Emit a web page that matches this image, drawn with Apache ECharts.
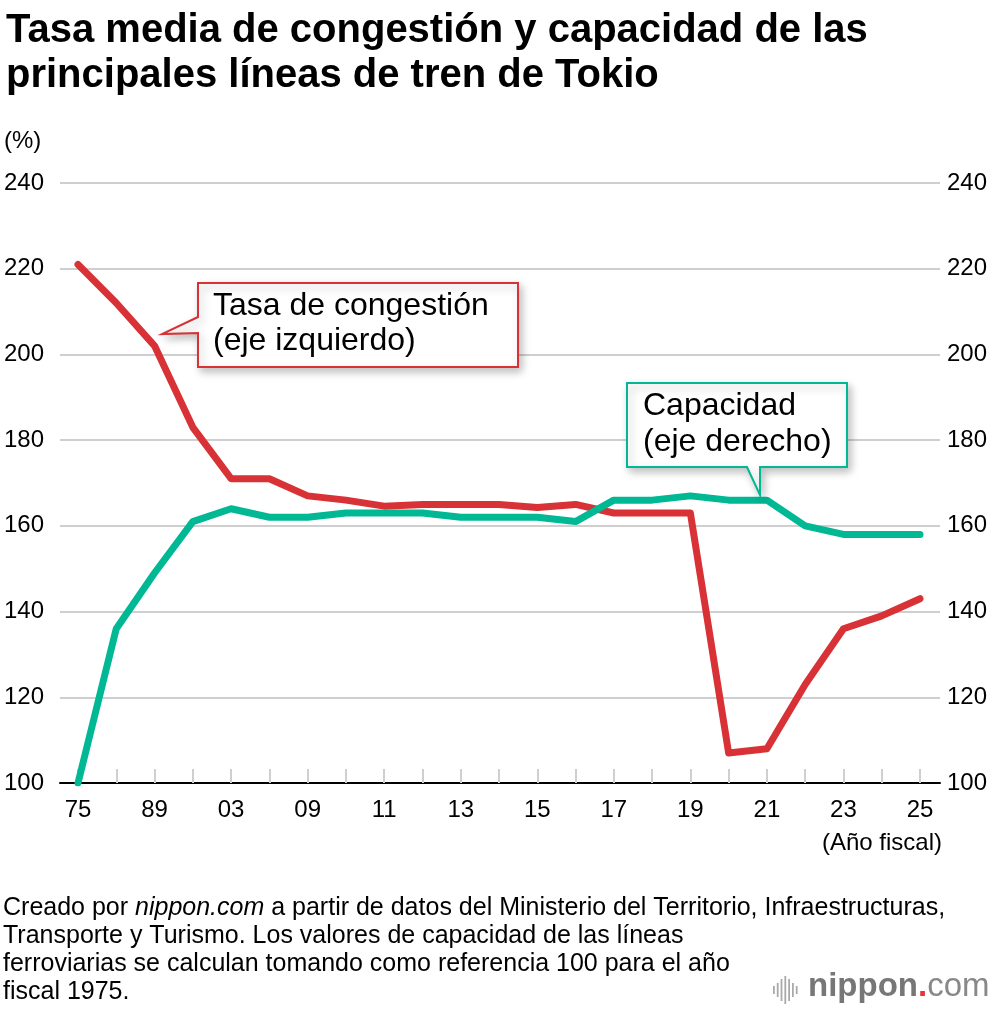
<!DOCTYPE html>
<html>
<head>
<meta charset="utf-8">
<script src="https://cdn.jsdelivr.net/npm/echarts@6/dist/echarts.min.js"></script>
<style>
  html, body { margin: 0; padding: 0; background: #fff; }
  #main { width: 1000px; height: 1012px; }
</style>
</head>
<body>
<div id="main"></div>
<script>
// años fiscales (solo se ven uno de cada dos)
var years = ['75', '85', '89', '95', '03', '06', '09', '10', '11', '12', '13', '14',
             '15', '16', '17', '18', '19', '20', '21', '22', '23', '24', '25'];
// tasa de congestión (%), eje izquierdo
var congestion = [221, 212, 202, 183, 171, 171, 167, 166, 164.6, 165, 165, 165,
                  164.3, 165, 163, 163, 163, 107, 108, 123, 136, 139, 143];
// capacidad (1975 = 100), eje derecho
var capacity = [100, 136, 149, 161, 164, 162, 162, 163, 163, 163, 162, 162,
                162, 161, 166, 166, 167, 166, 166, 160, 158, 158, 158];
var yTicks = [100, 120, 140, 160, 180, 200, 220, 240];

var FONT = '"Liberation Sans", Arial, Helvetica, sans-serif';
var RED = '#d83236';
var GREEN = '#00b894';

var myChart = echarts.init(document.getElementById('main'), null, { renderer: 'canvas' });

var shadow = {
    shadowBlur: 8,
    shadowOffsetX: 3,
    shadowOffsetY: 4,
    shadowColor: 'rgba(0,0,0,0.25)'
};

// barras del logo
var bars = [8, 14, 22, 28, 22, 14, 8];
var logoBars = bars.map(function (h, i) {
    return {
        type: 'rect',
        shape: { x: 773 + i * 3.8, y: 990 - h / 2, width: 1.8, height: h },
        style: { fill: '#aaa' }
    };
});

var yRange = { min: 100, max: 240, interval: 20 };

var option = {
    animation: false,
    title: {
        text: 'Tasa media de congestión y capacidad de las\nprincipales líneas de tren de Tokio',
        left: 1,
        top: 3,
        textStyle: {
            fontFamily: FONT,
            fontSize: 40,
            fontWeight: 'bold',
            color: '#000',
            lineHeight: 45
        }
    },
    // grid 0: lineas de fondo y etiquetas del eje y; grid 1: las series
    grid: [
        { left: 60, right: 60, top: 183, bottom: 229 },
        { left: 78, right: 80, top: 183, bottom: 229 }
    ],
    xAxis: [
        {
            gridIndex: 0,
            type: 'value',
            min: 0,
            max: 1,
            axisLine: { onZero: false, lineStyle: { color: '#000', width: 2 } },
            axisTick: { show: false },
            axisLabel: { show: false },
            splitLine: { show: false }
        },
        {
            gridIndex: 1,
            type: 'category',
            data: years,
            boundaryGap: false,
            axisLine: { show: false },
            axisTick: {
                show: true,
                inside: true,
                length: 14,
                interval: 0,
                lineStyle: { color: '#cfcfcf', width: 2 }
            },
            axisLabel: {
                interval: 1,
                margin: 15,
                color: '#000',
                fontFamily: FONT,
                fontSize: 24
            },
            splitLine: { show: false }
        }
    ],
    yAxis: [
        {
            gridIndex: 0,
            type: 'value',
            min: yRange.min,
            max: yRange.max,
            interval: yRange.interval,
            axisLine: { show: false },
            axisTick: { show: false },
            axisLabel: {
                align: 'left',
                margin: 56,
                color: '#000',
                fontFamily: FONT,
                fontSize: 24,
                formatter: function (v) { return yTicks.indexOf(v) >= 0 ? v : ''; }
            },
            splitLine: { lineStyle: { color: '#cfcfcf', width: 2 } }
        },
        {
            gridIndex: 0,
            type: 'value',
            min: yRange.min,
            max: yRange.max,
            interval: yRange.interval,
            position: 'right',
            axisLine: { show: false },
            axisTick: { show: false },
            axisLabel: {
                align: 'left',
                margin: 7,
                color: '#000',
                fontFamily: FONT,
                fontSize: 24
            },
            splitLine: { show: false }
        },
        {
            gridIndex: 1,
            type: 'value',
            min: yRange.min,
            max: yRange.max,
            show: false
        },
        {
            gridIndex: 1,
            type: 'value',
            min: yRange.min,
            max: yRange.max,
            position: 'right',
            show: false
        }
    ],
    series: [
        {
            name: 'Tasa de congestión',
            type: 'line',
            xAxisIndex: 1,
            yAxisIndex: 2,
            data: congestion,
            symbol: 'none',
            silent: true,
            lineStyle: { color: RED, width: 7, cap: 'round', join: 'round' },
            z: 3
        },
        {
            name: 'Capacidad',
            type: 'line',
            xAxisIndex: 1,
            yAxisIndex: 3,
            data: capacity,
            symbol: 'none',
            silent: true,
            lineStyle: { color: GREEN, width: 7, cap: 'round', join: 'round' },
            z: 4
        }
    ],
    graphic: [
        {
            type: 'text',
            style: { text: '(%)', x: 4, y: 129, fill: '#000', font: '24px ' + FONT }
        },
        {
            type: 'text',
            style: {
                text: '(Año fiscal)', x: 942, y: 831, align: 'right',
                fill: '#000', font: '24px ' + FONT
            }
        },
        // globo rojo
        {
            type: 'polygon',
            z: 10,
            shape: { points: [[198, 283], [518, 283], [518, 367], [198, 367], [198, 333], [162, 334], [198, 317]] },
            style: echarts.util.extend({ fill: '#fff', stroke: RED, lineWidth: 2 }, shadow)
        },
        {
            type: 'text',
            z: 11,
            style: {
                text: 'Tasa de congestión\n(eje izquierdo)',
                x: 213, y: 289, fill: '#000', font: '32px ' + FONT, lineHeight: 35
            }
        },
        // globo verde
        {
            type: 'polygon',
            z: 10,
            shape: { points: [[627, 383], [847, 383], [847, 467], [760, 467], [760, 495], [747, 467], [627, 467]] },
            style: echarts.util.extend({ fill: '#fff', stroke: GREEN, lineWidth: 2 }, shadow)
        },
        {
            type: 'text',
            z: 11,
            style: {
                text: 'Capacidad\n(eje derecho)',
                x: 643, y: 388, fill: '#000', font: '32px ' + FONT, lineHeight: 36
            }
        },
        // nota al pie
        {
            type: 'text',
            style: {
                text: 'Creado por {i|nippon.com} a partir de datos del Ministerio del Territorio, Infraestructuras,\n' +
                      'Transporte y Turismo. Los valores de capacidad de las líneas\n' +
                      'ferroviarias se calculan tomando como referencia 100 para el año\n' +
                      'fiscal 1975.',
                x: 3, y: 894, fill: '#000', font: '25px ' + FONT, lineHeight: 28,
                rich: {
                    i: { fontStyle: 'italic', fontFamily: FONT, fontSize: 25, fill: '#000', lineHeight: 28 }
                }
            }
        },
        // logo
        {
            type: 'group',
            children: logoBars.concat([
                {
                    type: 'text',
                    style: {
                        text: '{n|nippon}{d|.}{c|com}',
                        x: 808, y: 970,
                        rich: {
                            n: { fontFamily: FONT, fontSize: 33, fontWeight: 'bold', fill: '#777' },
                            d: { fontFamily: FONT, fontSize: 33, fontWeight: 'bold', fill: '#e8333a' },
                            c: { fontFamily: FONT, fontSize: 33, fill: '#888' }
                        }
                    }
                }
            ])
        }
    ]
};

myChart.setOption(option);
</script>
</body>
</html>
